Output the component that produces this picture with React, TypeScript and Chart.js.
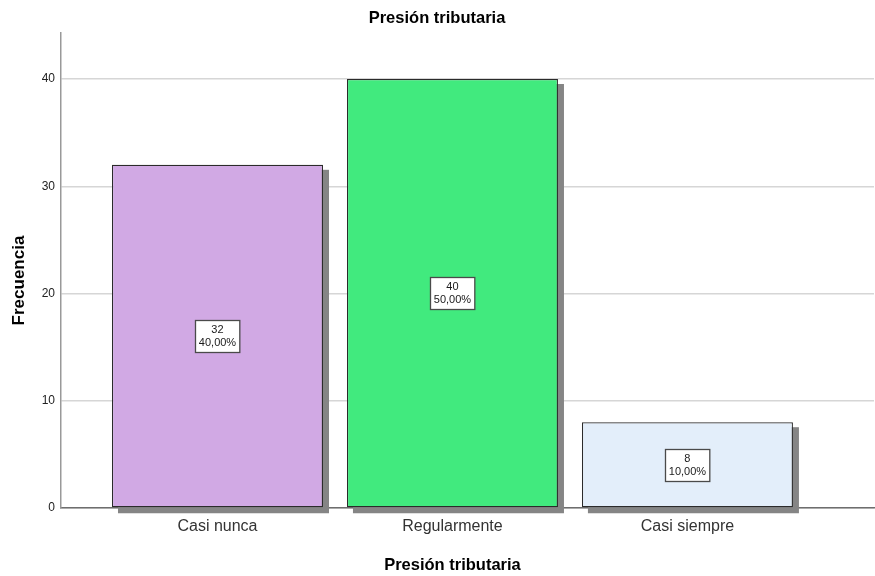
import React, { useEffect, useRef } from 'react';
import { Chart, registerables } from 'chart.js';
Chart.register(...registerables);

const categories = ['Casi nunca', 'Regularmente', 'Casi siempre'];
const counts = [32, 40, 8];
const percents = ['40,00%', '50,00%', '10,00%'];
const barColors = ['#D1A9E4', '#41EA7E', '#E3EEFA'];
const yTickValues = [0, 10, 20, 30, 40];
const chartTitle = 'Presión tributaria';
const xTitle = 'Presión tributaria';
const yTitle = 'Frecuencia';

const FONT = '"Liberation Sans", Arial, sans-serif';
const W = 875;
const H = 576;

const shadowPlugin = {
  id: 'barShadow',
  beforeDatasetsDraw(chart: any) {
    const ctx = chart.ctx;
    const meta = chart.getDatasetMeta(0);
    ctx.save();
    ctx.fillStyle = '#858585';
    meta.data.forEach((bar: any) => {
      const { x, y, base, width } = bar.getProps(['x', 'y', 'base', 'width'], true);
      ctx.fillRect(x - width / 2 + 6, y + 5, width, base - y + 1);
    });
    ctx.restore();
  },
};

const labelPlugin = {
  id: 'barLabels',
  afterDatasetsDraw(chart: any) {
    const ctx = chart.ctx;
    const meta = chart.getDatasetMeta(0);
    ctx.save();
    ctx.font = `11px ${FONT}`;
    meta.data.forEach((bar: any, i: number) => {
      const { x, y, base } = bar.getProps(['x', 'y', 'base'], true);
      const cy = (y + base) / 2;
      const l1 = String(counts[i]);
      const l2 = percents[i];
      const w = Math.max(ctx.measureText(l1).width, ctx.measureText(l2).width) + 7;
      const h = 32;
      const bx = Math.round(x - w / 2) + 0.5;
      const by = Math.round(cy - h / 2) + 0.5;
      ctx.fillStyle = '#ffffff';
      ctx.fillRect(bx, by, w, h);
      ctx.strokeStyle = '#4a4a4a';
      ctx.lineWidth = 1.3;
      ctx.strokeRect(bx, by, w, h);
      ctx.fillStyle = '#1a1a1a';
      ctx.textAlign = 'center';
      ctx.textBaseline = 'middle';
      ctx.fillText(l1, x, cy - 6);
      ctx.fillText(l2, x, cy + 7);
    });
    ctx.restore();
  },
};

const axisTitlePlugin = {
  id: 'axisTitles',
  afterDraw(chart: any) {
    const ctx = chart.ctx;
    const xs = chart.scales.x;
    ctx.save();
    ctx.fillStyle = '#000';
    ctx.font = `bold 16.5px ${FONT}`;
    ctx.textAlign = 'center';
    ctx.textBaseline = 'middle';
    ctx.fillText(xTitle, xs.getPixelForValue(1), chart.height - 11);
    ctx.translate(19, (chart.chartArea.top + chart.chartArea.bottom) / 2 + 10);
    ctx.rotate(-Math.PI / 2);
    ctx.font = `bold 17px ${FONT}`;
    ctx.fillText(yTitle, 0, 0);
    ctx.restore();
  },
};

export default function App() {
  const ref = useRef<HTMLCanvasElement | null>(null);
  useEffect(() => {
    if (!ref.current) return;
    Chart.defaults.font.family = FONT;
    const chart = new Chart(ref.current, {
      type: 'bar',
      data: {
        datasets: [
          {
            data: counts.map((v, i) => ({ x: i, y: v })),
            backgroundColor: barColors,
            borderColor: '#2b2b2b',
            borderWidth: 1.2,
            borderSkipped: false,
            categoryPercentage: 1,
            barPercentage: 0.898,
          },
        ],
      },
      plugins: [shadowPlugin, labelPlugin, axisTitlePlugin],
      options: {
        animation: false,
        responsive: false,
        layout: { padding: { left: 0, right: 1, top: 0, bottom: 0 } },
        plugins: {
          legend: { display: false },
          tooltip: { enabled: false },
          title: {
            display: true,
            text: chartTitle,
            color: '#000',
            font: { size: 16.5, weight: 'bold', family: FONT },
            padding: { top: 9, bottom: 4.2 },
          },
        },
        scales: {
          x: {
            type: 'linear',
            offset: false,
            min: -0.666,
            max: 2.794,
            grid: { display: false, drawTicks: false, offset: false },
            border: { display: true, color: '#6e6e6e', width: 1.5 },
            afterBuildTicks: (scale: any) => {
              scale.ticks = categories.map((_, i) => ({ value: i }));
            },
            afterFit: (scale: any) => {
              scale.height = 68;
            },
            ticks: {
              autoSkip: false,
              maxRotation: 0,
              padding: 9,
              color: '#333',
              font: { size: 16, family: FONT },
              callback: (v: any) => categories[v] ?? '',
            },
          },
          y: {
            min: 0,
            max: 44.29,
            grid: { color: '#d6d6d6', lineWidth: 1.5, drawTicks: false },
            border: { display: true, color: '#999', width: 1.5 },
            afterBuildTicks: (scale: any) => {
              scale.ticks = yTickValues.map((v) => ({ value: v }));
            },
            afterFit: (scale: any) => {
              scale.width = 61;
            },
            ticks: {
              padding: 6,
              color: '#222',
              font: { size: 12, family: FONT },
            },
          },
        },
      },
    });
    return () => chart.destroy();
  }, []);
  return (
    <div style={{ position: 'absolute', left: 0, top: 0, width: W, height: H }}>
      <canvas ref={ref} width={W} height={H} style={{ display: 'block', width: W, height: H }} />
    </div>
  );
}
